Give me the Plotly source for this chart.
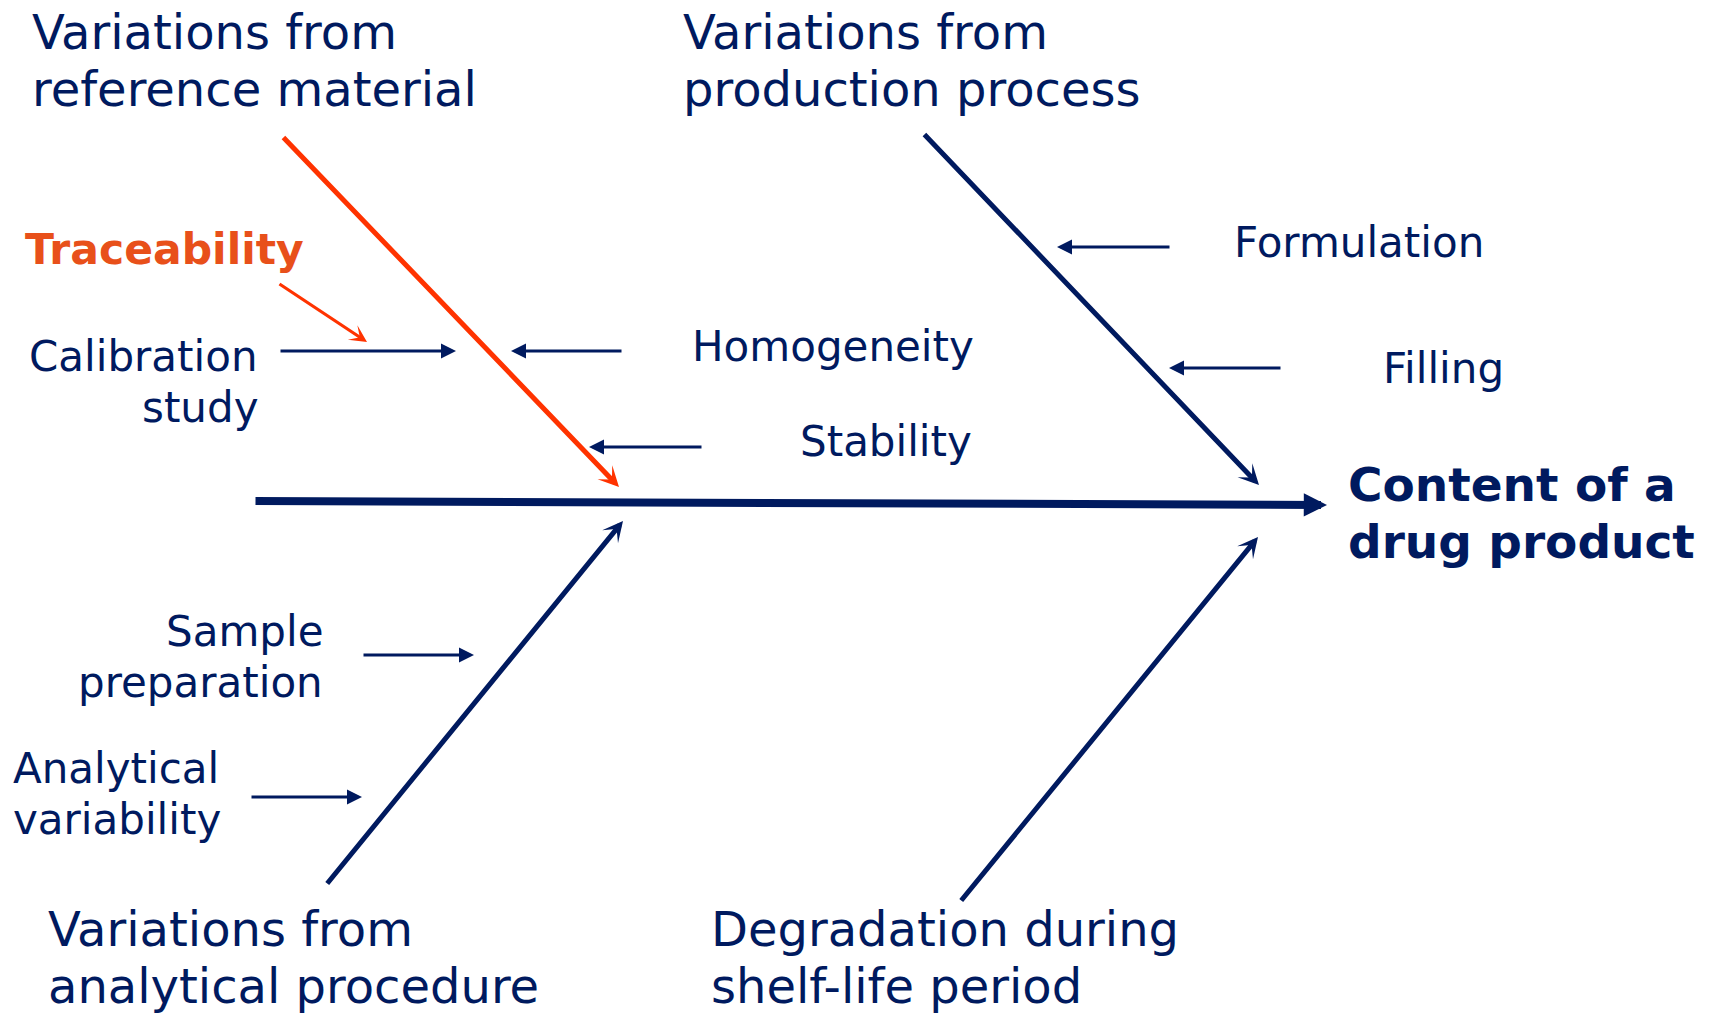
import plotly.graph_objects as go

# ---------------- content ----------------
effect_label = ["Content of a", "drug product"]
main_cause_labels = [
    ["Variations from", "reference material"],
    ["Variations from", "production process"],
    ["Variations from", "analytical procedure"],
    ["Degradation during", "shelf-life period"],
]
sub_cause_labels = [
    ["Calibration", "study"],
    ["Homogeneity"],
    ["Stability"],
    ["Formulation"],
    ["Filling"],
    ["Sample", "preparation"],
    ["Analytical", "variability"],
]
highlight_label = ["Traceability"]

# ---------------- layout geometry (pixel space of the page) ----------------
W, H = 1714, 1013
NAVY = "#001A5F"
RED = "#FF3300"
ORANGE = "#E8501A"
FONT = "DejaVu Sans, Verdana, sans-serif"

# text anchors: (x, y of first line centre, anchor, line step)
main_cause_pos = [
    (30, 32, "left", 57),
    (681, 32, "left", 57),
    (46, 929, "left", 57),
    (709, 929, "left", 57),
]
sub_cause_pos = [
    (260, 356, "right", 51),
    (690, 346, "left", 51),
    (798, 441, "left", 51),
    (1232, 242, "left", 51),
    (1381, 368, "left", 51),
    (325, 631, "right", 51),
    (11, 768, "left", 51),
]
effect_pos = (1346, 484, "left", 57)
highlight_pos = (23, 249, "left", 51)

# arrows: tail (x0, y0) -> head (x1, y1)
spine = (254, 501, 1327, 505)
bones = [
    (282, 136, 619, 487, RED),
    (923, 133, 1259, 485, NAVY),
    (326, 885, 623, 521, NAVY),
    (960, 902, 1258, 537, NAVY),
]
twigs = [
    (279, 351, 456, 351),
    (623, 351, 511, 351),
    (703, 447, 589, 447),
    (1171, 247, 1057, 247),
    (1282, 368, 1169, 368),
    (362, 655, 474, 655),
    (250, 797, 362, 797),
]
highlight_arrow = (278, 283, 367, 342)

fig = go.Figure()
annotations = []


def add_text(lines, pos, size, color, bold=False):
    x, y, anchor, step = pos
    for i, line in enumerate(lines):
        txt = f"<b>{line}</b>" if bold else line
        annotations.append(dict(
            x=x, y=y + i * step, xref="x", yref="y",
            text=txt, showarrow=False, xanchor=anchor, yanchor="middle",
            font=dict(family=FONT, size=size, color=color),
        ))


def add_arrow(seg, color, width, head, size):
    x0, y0, x1, y1 = seg[:4]
    annotations.append(dict(
        x=x1, y=y1, ax=x0, ay=y0, xref="x", yref="y", axref="x", ayref="y",
        text="", showarrow=True, arrowhead=head, arrowsize=size,
        arrowwidth=width, arrowcolor=color, standoff=0, startstandoff=0,
    ))


for lines, pos in zip(main_cause_labels, main_cause_pos):
    add_text(lines, pos, 48, NAVY)
for lines, pos in zip(sub_cause_labels, sub_cause_pos):
    add_text(lines, pos, 42, NAVY)
add_text(effect_label, effect_pos, 47, NAVY, bold=True)
add_text(highlight_label, highlight_pos, 42.5, ORANGE, bold=True)

add_arrow(spine, NAVY, 8, 2, 0.58)
for b in bones:
    add_arrow(b, b[4], 5, 3, 0.68)
for t in twigs:
    add_arrow(t, NAVY, 3, 2, 1.0)
add_arrow(highlight_arrow, RED, 3.2, 3, 0.9)

# invisible trace to establish axes
fig.add_trace(go.Scatter(x=[0, W], y=[0, H], mode="markers",
                         marker=dict(opacity=0), hoverinfo="skip", showlegend=False))

fig.update_layout(
    width=W, height=H, autosize=False,
    margin=dict(l=0, r=0, t=0, b=0),
    paper_bgcolor="white", plot_bgcolor="white",
    xaxis=dict(range=[0, W], visible=False, fixedrange=True),
    yaxis=dict(range=[H, 0], visible=False, fixedrange=True),
    annotations=annotations,
    showlegend=False,
)

fig.write_html("out.html", config={"displayModeBar": False},
               post_script="document.body.style.margin='0';document.body.style.overflow='hidden';")
